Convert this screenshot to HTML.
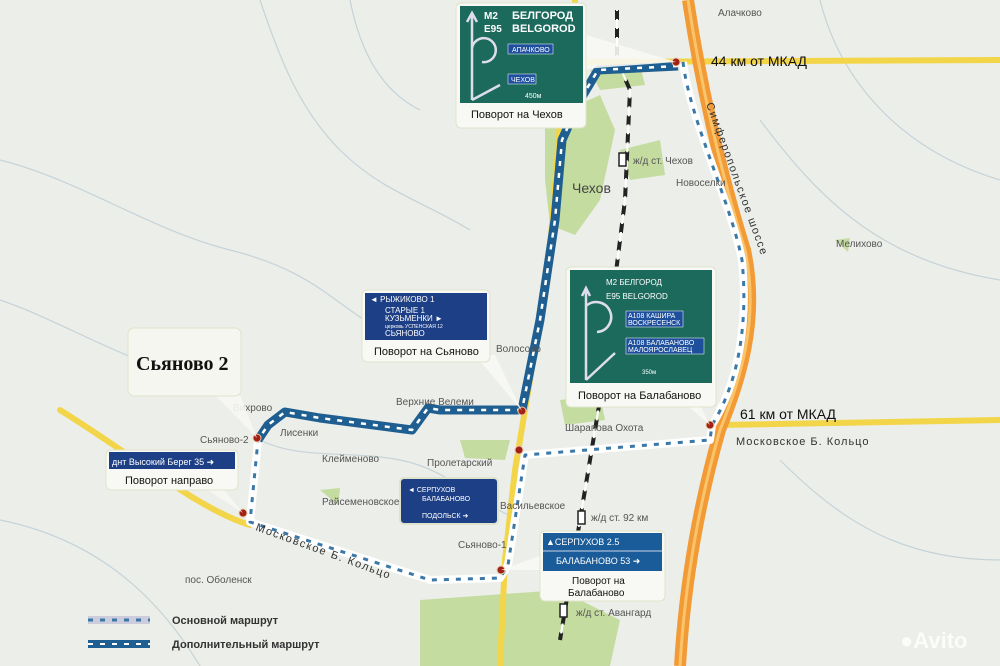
<!DOCTYPE html>
<html><head><meta charset="utf-8"><style>
body{margin:0;width:1000px;height:666px;overflow:hidden;background:#eceeea;font-family:"Liberation Sans",sans-serif}
svg{display:block}
text{font-family:"Liberation Sans",sans-serif}
</style></head><body>
<svg width="1000" height="666" viewBox="0 0 1000 666">
<defs>
<pattern id="tri" width="14" height="8" patternUnits="userSpaceOnUse"></pattern>
</defs>
<rect width="1000" height="666" fill="#eceee9"/>
<!-- rivers -->
<g fill="none" stroke="#c5d3d8" stroke-width="1.2">
<path d="M260 0 C280 60 300 110 340 150 S420 200 470 230"/>
<path d="M0 160 C80 180 150 230 230 250 S330 300 380 330"/>
<path d="M0 300 C60 320 120 360 200 380"/>
<path d="M260 440 C300 460 350 450 400 460 S470 500 520 520"/>
<path d="M820 0 C840 80 900 150 1000 180"/>
<path d="M760 120 C820 200 880 260 1000 280"/>
<path d="M780 460 C840 520 900 560 1000 560"/>
<path d="M0 520 C100 540 160 600 200 666"/>
<path d="M350 0 C360 50 380 90 420 110"/>
</g>
<!-- green areas -->
<g fill="#c5dca0">
<path d="M545 120 L600 95 L615 130 L600 200 L575 235 L550 225 L545 180 Z"/>
<path d="M620 150 L660 140 L665 175 L630 180 Z"/>
<path d="M420 600 L560 590 L620 620 L610 666 L420 666 Z"/>
<path d="M560 400 L600 395 L605 420 L565 425 Z"/>
<path d="M460 440 L510 440 L505 460 L465 458 Z"/>
<path d="M835 240 L850 238 L848 252 Z"/>
<path d="M320 490 L340 488 L338 505 Z"/>
<path d="M590 70 L640 65 L645 85 L600 90 Z"/>
</g>
<!-- railway -->
<path d="M617 10 L617 60 L630 90 L625 200 L600 400 L580 520 L560 640" fill="none" stroke="#222" stroke-width="4" stroke-dasharray="10 8"/>
<path d="M617 10 L617 60 L630 90 L625 200 L600 400 L580 520 L560 640" fill="none" stroke="#fff" stroke-width="2" stroke-dasharray="10 8" stroke-dashoffset="9"/>
<!-- yellow roads -->
<g fill="none" stroke="#f3d54a" stroke-width="6" stroke-linecap="round">
<path d="M575 0 L575 60 L560 120 L550 250 L530 380 L515 470 L505 560 L500 666"/>
<path d="M575 62 L1000 60"/>
<path d="M720 425 L1000 420"/>
<path d="M60 410 C140 460 200 510 250 525"/>
</g>
<!-- orange highway -->
<path d="M688 0 C700 80 720 170 745 250 C760 320 740 380 720 430 C700 500 685 580 680 666" fill="none" stroke="#f29a36" stroke-width="12"/>
<path d="M688 0 C700 80 720 170 745 250 C760 320 740 380 720 430 C700 500 685 580 680 666" fill="none" stroke="#f9c46a" stroke-width="3"/>
<!-- main route (white) -->
<g fill="none" stroke-linejoin="round">
<path d="M683 62 C690 120 730 200 742 260 C748 320 740 380 712 425 L710 440 L525 455 L508 565 L500 578 L430 580 L250 522 L258 440" stroke="#fff" stroke-width="8"/>
<path d="M683 62 C690 120 730 200 742 260 C748 320 740 380 712 425 L710 440 L525 455 L508 565 L500 578 L430 580 L250 522 L258 440" stroke="#3a78a8" stroke-width="3" stroke-dasharray="5 7"/>
<!-- extra route (blue) -->
<path d="M678 66 L598 70 L580 100 L562 140 L555 220 L540 320 L522 410 L440 410 L428 408 L412 430 L320 418 L285 412 L268 425 L258 440" stroke="#1f5e91" stroke-width="9"/>
<path d="M678 66 L598 70 L580 100 L562 140 L555 220 L540 320 L522 410 L440 410 L428 408 L412 430 L320 418 L285 412 L268 425 L258 440" stroke="#fff" stroke-width="2.5" stroke-dasharray="5 7"/>
</g>
<!-- red points -->
<g fill="#a32018" stroke="#e9c9a0" stroke-width="1">
<circle cx="676" cy="62" r="4"/><circle cx="710" cy="425" r="4"/><circle cx="522" cy="411" r="4"/>
<circle cx="519" cy="450" r="4"/><circle cx="501" cy="570" r="4"/><circle cx="257" cy="438" r="4"/><circle cx="243" cy="513" r="4"/>
</g>
<!-- station icons -->
<g fill="#fff" stroke="#222" stroke-width="1.5">
<rect x="619" y="153" width="7" height="13"/><rect x="578" y="511" width="7" height="13"/><rect x="560" y="604" width="7" height="13"/>
</g>
<!-- place labels -->
<g font-size="10" fill="#555">
<text x="718" y="16">Алачково</text>
<text x="633" y="164">ж/д ст. Чехов</text>
<text x="676" y="186">Новоселки</text>
<text x="836" y="247">Мелихово</text>
<text x="496" y="352">Волосово</text>
<text x="396" y="405">Верхние Велеми</text>
<text x="233" y="411">Вихрово</text>
<text x="280" y="436">Лисенки</text>
<text x="200" y="443">Сьяново-2</text>
<text x="322" y="462">Клейменово</text>
<text x="427" y="466">Пролетарский</text>
<text x="565" y="431">Шарапова Охота</text>
<text x="322" y="505">Райсеменовское</text>
<text x="500" y="509">Васильевское</text>
<text x="458" y="548">Сьяново-1</text>
<text x="591" y="521">ж/д ст. 92 км</text>
<text x="576" y="616">ж/д ст. Авангард</text>
<text x="185" y="583">пос. Оболенск</text>
</g>
<text x="572" y="193" font-size="14" fill="#444">Чехов</text>
<text x="711" y="66" font-size="14" fill="#111">44 км от МКАД</text>
<text x="740" y="419" font-size="14" fill="#111">61 км от МКАД</text>
<text font-size="11" fill="#333" letter-spacing="1.5" transform="translate(706 104) rotate(70)">Симферопольское шоссе</text>
<text x="736" y="445" font-size="11" fill="#333" letter-spacing="1">Московское Б. Кольцо</text>
<text font-size="11" fill="#333" letter-spacing="1.5" transform="translate(255 530) rotate(20)">Московское Б. Кольцо</text>
<!-- callout pointers -->
<g fill="#f8f8f4" opacity="0.9">
<polygon points="570,30 676,62 570,70"/>
<polygon points="675,395 710,425 695,395"/>
<polygon points="475,355 522,411 495,355"/>
<polygon points="215,395 257,438 240,395"/>
<polygon points="200,485 243,513 220,485"/>
<polygon points="542,555 501,570 542,570"/>
</g>
<!-- Sign 1 Chekhov -->
<g>
<rect x="456" y="3" width="130" height="125" rx="5" fill="#f8f8f4" stroke="#dfe3cc"/>
<rect x="460" y="6" width="123" height="97" fill="#1c6a5c"/>
<text x="484" y="19" font-size="10" fill="#fff" font-weight="bold">M2</text>
<text x="484" y="32" font-size="10" fill="#fff" font-weight="bold">E95</text>
<text x="512" y="19" font-size="11" fill="#fff" font-weight="bold">БЕЛГОРОД</text>
<text x="512" y="32" font-size="11" fill="#fff" font-weight="bold">BELGOROD</text>
<rect x="508" y="44" width="45" height="10" fill="#1d4f9c" stroke="#fff" stroke-width=".5"/><text x="512" y="52" font-size="7" fill="#fff">АПАЧКОВО</text>
<rect x="508" y="74" width="28" height="10" fill="#1d4f9c" stroke="#fff" stroke-width=".5"/><text x="511" y="82" font-size="7" fill="#fff">ЧЕХОВ</text>
<text x="525" y="98" font-size="7" fill="#fff">450м</text>
<path d="M472 100 V15 M467 22 L472 13 L477 22 M472 48 A12 12 0 1 1 482 62 M472 100 L500 85" stroke="#dde" stroke-width="2.5" fill="none"/>
<text x="471" y="118" font-size="11" fill="#111">Поворот на Чехов</text>
</g>
<!-- Sign Balabanovo (big) -->
<g>
<rect x="566" y="267" width="150" height="140" rx="5" fill="#f8f8f4" stroke="#dfe3cc"/>
<rect x="570" y="270" width="142" height="113" fill="#1c6a5c"/>
<text x="606" y="285" font-size="8" fill="#fff">M2  БЕЛГОРОД</text>
<text x="606" y="299" font-size="8" fill="#fff">E95  BELGOROD</text>
<rect x="626" y="311" width="57" height="16" fill="#1d4f9c" stroke="#fff" stroke-width=".5"/>
<text x="628" y="318" font-size="7" fill="#fff">А108 КАШИРА</text><text x="628" y="325" font-size="7" fill="#fff">ВОСКРЕСЕНСК</text>
<rect x="626" y="338" width="78" height="16" fill="#1d4f9c" stroke="#fff" stroke-width=".5"/>
<text x="628" y="345" font-size="7" fill="#fff">А108 БАЛАБАНОВО</text><text x="628" y="352" font-size="7" fill="#fff">МАЛОЯРОСЛАВЕЦ</text>
<text x="642" y="374" font-size="6" fill="#fff">350м</text>
<path d="M586 380 V290 M582 296 L586 288 L590 296 M586 306 A15 15 0 1 1 597 332 M586 380 L615 353" stroke="#dde" stroke-width="2.5" fill="none"/>
<text x="578" y="399" font-size="11" fill="#111">Поворот на Балабаново</text>
</g>
<!-- Sign Syanovo -->
<g>
<rect x="362" y="290" width="128" height="72" rx="5" fill="#f8f8f4" stroke="#dfe3cc"/>
<rect x="365" y="293" width="122" height="47" fill="#1d3f86"/>
<text x="370" y="302" font-size="8" fill="#fff">◄ РЫЖИКОВО        1</text>
<text x="385" y="313" font-size="8" fill="#fff">СТАРЫЕ            1</text>
<text x="385" y="321" font-size="8" fill="#fff">КУЗЬМЕНКИ       ►</text>
<text x="385" y="328" font-size="5" fill="#fff">церковь УСПЕНСКАЯ   12</text>
<text x="385" y="336" font-size="8" fill="#fff">СЬЯНОВО</text>
<text x="374" y="355" font-size="11" fill="#111">Поворот на Сьяново</text>
</g>
<!-- Big title -->
<rect x="128" y="328" width="113" height="68" rx="6" fill="#f5f6ef" stroke="#dfe3cc"/>
<text x="136" y="370" font-size="20" font-weight="bold" font-family="Liberation Serif,serif" fill="#111" style="font-family:'Liberation Serif',serif">Сьяново 2</text>
<!-- Sign right turn -->
<g>
<rect x="106" y="450" width="132" height="40" rx="5" fill="#f8f8f4" stroke="#dfe3cc"/>
<rect x="109" y="452" width="126" height="17" fill="#1d3f86"/>
<text x="112" y="465" font-size="9" fill="#fff">днт Высокий Берег 35 ➜</text>
<text x="125" y="484" font-size="11" fill="#111">Поворот направо</text>
</g>
<!-- Sign Serpukhov blue -->
<g>
<rect x="400" y="478" width="98" height="46" rx="4" fill="#1d3f86" stroke="#dfe3cc" stroke-width="2"/>
<text x="408" y="492" font-size="7" fill="#fff">◄ СЕРПУХОВ</text>
<text x="422" y="501" font-size="7" fill="#fff">БАЛАБАНОВО</text>
<text x="422" y="518" font-size="7" fill="#fff">ПОДОЛЬСК  ➜</text>
</g>
<!-- Sign Serpukhov bottom -->
<g>
<rect x="540" y="531" width="125" height="70" rx="5" fill="#f8f8f4" stroke="#dfe3cc"/>
<rect x="543" y="533" width="119" height="38" fill="#1a5b9a"/>
<line x1="543" y1="551" x2="662" y2="551" stroke="#fff" stroke-width=".8"/>
<text x="546" y="545" font-size="9" fill="#fff">▲СЕРПУХОВ       2.5</text>
<text x="556" y="564" font-size="9" fill="#fff">БАЛАБАНОВО 53 ➜</text>
<text x="572" y="584" font-size="10" fill="#111">Поворот на</text>
<text x="568" y="596" font-size="10" fill="#111">Балабаново</text>
</g>
<!-- legend -->
<path d="M88 620 H150" stroke="#ccd" stroke-width="8"/><path d="M88 620 H150" stroke="#3a78a8" stroke-width="3" stroke-dasharray="5 7"/>
<path d="M88 644 H150" stroke="#1f5e91" stroke-width="8"/><path d="M88 644 H150" stroke="#fff" stroke-width="2" stroke-dasharray="5 7"/>
<text x="172" y="624" font-size="11" font-weight="bold" fill="#333">Основной маршрут</text>
<text x="172" y="648" font-size="11" font-weight="bold" fill="#333">Дополнительный маршрут</text>
<text x="900" y="648" font-size="22" font-weight="bold" fill="#fff" opacity="0.85">●Avito</text>
</svg>
</body></html>
